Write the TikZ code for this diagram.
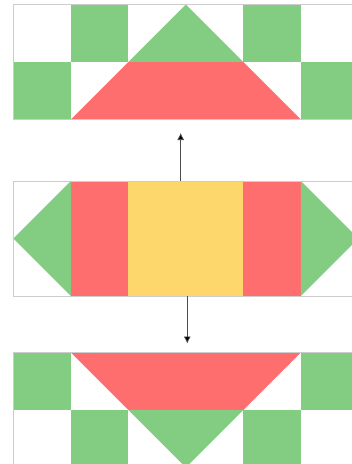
\documentclass[tikz,border=0pt]{standalone}
\usetikzlibrary{arrows.meta, positioning}
\definecolor{patgreen}{RGB}{130,205,130}
\definecolor{patred}{RGB}{255,110,110}
\definecolor{patyellow}{RGB}{253,215,108}
\definecolor{framegray}{RGB}{205,205,205}
\begin{document}
\begin{tikzpicture}[x=57.5pt, y=-57.5pt,
    panel/.style={draw=framegray, line width=1pt, minimum width=345pt, minimum height=115pt, inner sep=0pt, outer sep=0pt, anchor=north west},
    link/.style={draw=black!70, line width=0.7pt, -{Latex[length=7pt, width=7pt, fill=black]}}]
\useasboundingbox (0,0) rectangle (6.1217,8.0696);
% top panel
\begin{scope}[shift={(0.2313,0.0783)}]
\foreach \x/\y in {1/0, 4/0, 0/1, 5/1} {
    \fill[patgreen] (\x, \y) rectangle ++(1, 1);
}
\fill[patgreen] (2, 1) -- (3, 0) -- (4, 1) -- cycle;
\fill[patred] (1, 2) -- (2, 1) -- (4, 1) -- (5, 2) -- cycle;
\node[panel] (top) at (0, 0) {};
\end{scope}
% middle panel
\begin{scope}[shift={(0.2313,3.148)}]
\fill[patgreen] (0, 1) -- (1, 0) -- (1, 2) -- cycle;
\fill[patred] (1, 0) rectangle (2, 2);
\fill[patyellow] (2, 0) rectangle (4, 2);
\fill[patred] (4, 0) rectangle (5, 2);
\fill[patgreen] (5, 0) -- (6, 1) -- (5, 2) -- cycle;
\node[panel] (mid) at (0, 0) {};
\end{scope}
% bottom panel
\begin{scope}[shift={(0.2313,6.13)}]
\foreach \x/\y in {0/0, 5/0, 1/1, 4/1} {
    \fill[patgreen] (\x, \y) rectangle ++(1, 1);
}
\fill[patred] (1, 0) -- (5, 0) -- (4, 1) -- (2, 1) -- cycle;
\fill[patgreen] (2, 1) -- (4, 1) -- (3, 2) -- cycle;
\node[panel] (bot) at (0, 0) {};
\end{scope}
% arrows
\coordinate (uptip) at (3.1426, 2.313);
\coordinate (downtip) at (3.257, 5.974);
\draw[link] (mid.north -| uptip) -- (uptip);
\draw[link] (mid.south -| downtip) -- (downtip);
\end{tikzpicture}
\end{document}
